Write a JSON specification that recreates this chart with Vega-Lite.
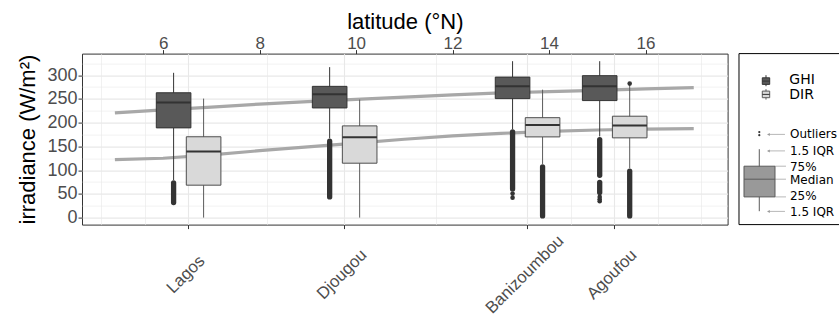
{
  "$schema": "https://vega.github.io/schema/vega-lite/v6.json",
  "usermeta": {"embedOptions": {"actions": false}},
  "background": "white",
  "padding": {"left": 16, "top": 9.6, "right": 0, "bottom": 0},
  "spacing": 11,
  "bounds": "flush",
  "config": {
    "view": {"stroke": "#333333", "strokeWidth": 1},
    "font": "Liberation Sans",
    "axis": {
      "domain": false,
      "labelColor": "#4d4d4d",
      "tickColor": "#333333",
      "tickWidth": 1,
      "gridColor": "#e8e8e8",
      "titleColor": "#000000",
      "titleFontWeight": "normal",
      "labelFontSize": 18,
      "titleFontSize": 22,
      "labelOverlap": false,
      "labelFlush": false
    }
  },
  "datasets": {
    "boxes": [
      {"site": "Lagos", "var": "GHI", "lat": 6.524, "lo": 79, "q1": 189, "med": 242.5, "q3": 263, "hi": 305},
      {"site": "Djougou", "var": "GHI", "lat": 9.759, "lo": 167, "q1": 231, "med": 260, "q3": 276.5, "hi": 317},
      {"site": "Banizoumbou", "var": "GHI", "lat": 13.551, "lo": 186, "q1": 250.7, "med": 276.8, "q3": 296, "hi": 329.5},
      {"site": "Agoufou", "var": "GHI", "lat": 15.357, "lo": 171, "q1": 246.5, "med": 276.8, "q3": 299, "hi": 329.5},
      {"site": "Lagos", "var": "DIR", "lat": 6.524, "lo": 0, "q1": 68.3, "med": 139, "q3": 170.3, "hi": 250.7},
      {"site": "Djougou", "var": "DIR", "lat": 9.759, "lo": 0, "q1": 114.6, "med": 169.4, "q3": 193.2, "hi": 248.6},
      {"site": "Banizoumbou", "var": "DIR", "lat": 13.551, "lo": 113, "q1": 170, "med": 195, "q3": 210.5, "hi": 269.5},
      {"site": "Agoufou", "var": "DIR", "lat": 15.357, "lo": 104, "q1": 168, "med": 193.8, "q3": 213.6, "hi": 279}
    ],
    "outranges": [
      {"site": "Lagos", "var": "GHI", "lat": 6.524, "from": 31.7, "to": 73.2},
      {"site": "Djougou", "var": "GHI", "lat": 9.759, "from": 43.5, "to": 161},
      {"site": "Banizoumbou", "var": "GHI", "lat": 13.551, "from": 60.3, "to": 180.6},
      {"site": "Banizoumbou", "var": "DIR", "lat": 13.551, "from": 3.5, "to": 107},
      {"site": "Agoufou", "var": "GHI", "lat": 15.357, "from": 89, "to": 164.4},
      {"site": "Agoufou", "var": "GHI", "lat": 15.357, "from": 52.8, "to": 74.4},
      {"site": "Agoufou", "var": "DIR", "lat": 15.357, "from": 3.5, "to": 97.6}
    ],
    "outpoints": [
      {"site": "Banizoumbou", "var": "GHI", "lat": 13.551, "v": 50.5},
      {"site": "Banizoumbou", "var": "GHI", "lat": 13.551, "v": 42},
      {"site": "Agoufou", "var": "GHI", "lat": 15.357, "v": 43.6},
      {"site": "Agoufou", "var": "GHI", "lat": 15.357, "v": 38.8},
      {"site": "Agoufou", "var": "GHI", "lat": 15.357, "v": 34.6},
      {"site": "Agoufou", "var": "DIR", "lat": 15.357, "v": 282.3}
    ],
    "fit": [
      {"var": "GHI", "lat": 5, "v": 220.6}, {"var": "GHI", "lat": 6, "v": 226.9}, {"var": "GHI", "lat": 7, "v": 232.9},
      {"var": "GHI", "lat": 8, "v": 239.1}, {"var": "GHI", "lat": 9, "v": 244.2}, {"var": "GHI", "lat": 10, "v": 249.0},
      {"var": "GHI", "lat": 11, "v": 253.8}, {"var": "GHI", "lat": 12, "v": 258.6}, {"var": "GHI", "lat": 13, "v": 262.6},
      {"var": "GHI", "lat": 14, "v": 265.4}, {"var": "GHI", "lat": 15, "v": 268.2}, {"var": "GHI", "lat": 16, "v": 271.1},
      {"var": "GHI", "lat": 17, "v": 273.9},
      {"var": "DIR", "lat": 5, "v": 122}, {"var": "DIR", "lat": 6, "v": 125}, {"var": "DIR", "lat": 7, "v": 132},
      {"var": "DIR", "lat": 8, "v": 141}, {"var": "DIR", "lat": 9, "v": 149}, {"var": "DIR", "lat": 10, "v": 157},
      {"var": "DIR", "lat": 11, "v": 165}, {"var": "DIR", "lat": 12, "v": 172}, {"var": "DIR", "lat": 13, "v": 177.5},
      {"var": "DIR", "lat": 14, "v": 181.5}, {"var": "DIR", "lat": 15, "v": 184.5}, {"var": "DIR", "lat": 16, "v": 186.3},
      {"var": "DIR", "lat": 17, "v": 187.5}
    ]
  },
  "hconcat": [
    {
      "width": 645.6,
      "height": 171,
      "layer": [
        {
          "data": {"name": "fit"},
          "mark": {"type": "line", "color": "#a8a8a8", "strokeWidth": 3.2},
          "encoding": {
            "x": {
              "field": "lat", "type": "quantitative",
              "scale": {"domain": [4.422, 17.598], "nice": false, "zero": false},
              "axis": {
                "orient": "bottom",
                "values": [4.72, 5.633, 6.524, 8.157, 9.759, 11.659, 13.551, 14.455, 15.357, 16.259, 17.157],
                "labelExpr": "datum.value == 6.524 ? 'Lagos' : datum.value == 9.759 ? 'Djougou' : datum.value == 13.551 ? 'Banizoumbou' : datum.value == 15.357 ? 'Agoufou' : ''",
                "title": null,
                "grid": true,
                "gridWidth": {"condition": {"test": "indexof([6.524, 9.759, 13.551, 15.357], datum.value) >= 0", "value": 1.1}, "value": 0.6},
                "tickOpacity": {"condition": {"test": "indexof([6.524, 9.759, 13.551, 15.357], datum.value) >= 0", "value": 1}, "value": 0},
                "tickSize": 4,
                "labelAngle": -45,
                "labelAlign": "center",
                "labelBaseline": "middle",
                "labelPadding": 45.5,
                "labelOffset": -3,
                "labelFontSize": 16.8
              }
            },
            "y": {
              "field": "v", "type": "quantitative",
              "scale": {"domain": [-14.75, 345.5], "nice": false, "zero": false},
              "axis": {
                "orient": "left",
                "values": [0, 25, 50, 75, 100, 125, 150, 175, 200, 225, 250, 275, 300, 325],
                "labelExpr": "datum.value % 50 === 0 ? datum.label : ''",
                "grid": true,
                "gridWidth": {"condition": {"test": "datum.value % 50 === 0", "value": 1.1}, "value": 0.6},
                "tickOpacity": {"condition": {"test": "datum.value % 50 === 0", "value": 1}, "value": 0},
                "tickSize": 4,
                "labelPadding": 1,
                "title": "irradiance (W/m²)",
                "titlePadding": 7
              }
            },
            "detail": {"field": "var", "type": "nominal"}
          }
        },
        {
          "data": {"name": "boxes"},
          "mark": {"type": "rule", "strokeWidth": 1, "xOffset": {"expr": "datum.var === 'GHI' ? -14.8 : 15.2"}},
          "encoding": {
            "x": {
              "field": "lat", "type": "quantitative",
              "scale": {"domain": [4.422, 17.598], "nice": false, "zero": false},
              "axis": {
                "orient": "top",
                "values": [6, 8, 10, 12, 14, 16],
                "grid": false,
                "tickSize": 4,
                "labelPadding": -2.5,
                "labelFontSize": 17,
                "title": "latitude (°N)",
                "titlePadding": 1
              }
            },
            "y": {"field": "lo", "type": "quantitative", "scale": {"domain": [-14.75, 345.5], "nice": false, "zero": false}, "axis": null},
            "y2": {"field": "hi"},
            "color": {"condition": {"test": "datum.var === 'GHI'", "value": "#333333"}, "value": "#5a5a5a"}
          }
        },
        {
          "data": {"name": "outranges"},
          "mark": {"type": "rule", "strokeWidth": 5.3, "strokeCap": "round", "color": "#333333", "xOffset": {"expr": "datum.var === 'GHI' ? -14.8 : 15.2"}},
          "encoding": {
            "x": {"field": "lat", "type": "quantitative", "scale": {"domain": [4.422, 17.598], "nice": false, "zero": false}, "axis": null},
            "y": {"field": "from", "type": "quantitative", "scale": {"domain": [-14.75, 345.5], "nice": false, "zero": false}, "axis": null},
            "y2": {"field": "to"}
          }
        },
        {
          "data": {"name": "outpoints"},
          "mark": {"type": "point", "filled": true, "opacity": 1, "size": 21, "color": "#333333", "xOffset": {"expr": "datum.var === 'GHI' ? -14.8 : 15.2"}},
          "encoding": {
            "x": {"field": "lat", "type": "quantitative", "scale": {"domain": [4.422, 17.598], "nice": false, "zero": false}, "axis": null},
            "y": {"field": "v", "type": "quantitative", "scale": {"domain": [-14.75, 345.5], "nice": false, "zero": false}, "axis": null}
          }
        },
        {
          "data": {"name": "boxes"},
          "mark": {"type": "bar", "width": 34.6, "strokeWidth": 1, "xOffset": {"expr": "datum.var === 'GHI' ? -14.8 : 15.2"}},
          "encoding": {
            "x": {"field": "lat", "type": "quantitative", "scale": {"domain": [4.422, 17.598], "nice": false, "zero": false}, "axis": null},
            "y": {"field": "q1", "type": "quantitative", "scale": {"domain": [-14.75, 345.5], "nice": false, "zero": false}, "axis": null},
            "y2": {"field": "q3"},
            "fill": {"condition": {"test": "datum.var === 'GHI'", "value": "#595959"}, "value": "#d9d9d9"},
            "stroke": {"condition": {"test": "datum.var === 'GHI'", "value": "#333333"}, "value": "#4d4d4d"}
          }
        },
        {
          "data": {"name": "boxes"},
          "mark": {"type": "tick", "orient": "horizontal", "size": 34.6, "thickness": 2, "color": "#333333", "opacity": 1, "xOffset": {"expr": "datum.var === 'GHI' ? -14.8 : 15.2"}},
          "encoding": {
            "x": {"field": "lat", "type": "quantitative", "scale": {"domain": [4.422, 17.598], "nice": false, "zero": false}, "axis": null},
            "y": {"field": "med", "type": "quantitative", "scale": {"domain": [-14.75, 345.5], "nice": false, "zero": false}, "axis": null}
          }
        }
      ],
      "resolve": {"axis": {"x": "independent", "y": "independent"}}
    },
    {
      "width": 100,
      "height": 171,
      "view": {"stroke": null},
      "encoding": {
        "x": {"field": "x", "type": "quantitative", "scale": {"domain": [0, 100], "nice": false, "zero": false}, "axis": null},
        "y": {"field": "y", "type": "quantitative", "scale": {"domain": [0, 171], "nice": false, "zero": false}, "axis": null}
      },
      "layer": [
        {
          "data": {"values": [
            {"x": 0, "x2": 100, "y": 171, "y2": 171},
            {"x": 0, "x2": 100, "y": 0, "y2": 0},
            {"x": 0, "x2": 0, "y": 0, "y2": 171}
          ]},
          "mark": {"type": "rule", "color": "#000000", "strokeWidth": 1},
          "encoding": {"x2": {"field": "x2"}, "y2": {"field": "y2"}}
        },
        {
          "data": {"values": [
            {"part": "Outliers", "x": 28.7, "x2": 46, "y": 90.2, "y2": 90.2},
            {"part": "upper 1.5 IQR", "x": 28.7, "x2": 46, "y": 73.7, "y2": 73.7},
            {"part": "75%", "x": 36, "x2": 47, "y": 58.4, "y2": 58.4},
            {"part": "Median", "x": 36, "x2": 47, "y": 45.4, "y2": 45.4},
            {"part": "25%", "x": 36, "x2": 47, "y": 27.7, "y2": 27.7},
            {"part": "lower 1.5 IQR", "x": 28.7, "x2": 46, "y": 13.2, "y2": 13.2}
          ]},
          "mark": {"type": "rule", "color": "#9a9a9a", "strokeWidth": 0.7},
          "encoding": {"x2": {"field": "x2"}, "y2": {"field": "y2"}}
        },
        {
          "data": {"values": [
            {"part": "Outliers", "x": 29.5, "y": 90.2},
            {"part": "upper 1.5 IQR", "x": 29.5, "y": 73.7},
            {"part": "lower 1.5 IQR", "x": 29.5, "y": 13.2}
          ]},
          "mark": {"type": "point", "shape": "triangle-left", "filled": true, "opacity": 1, "size": 9, "color": "#9a9a9a"}
        },
        {
          "data": {"values": [{"part": "whisker", "x": 20.3, "x2": 20.3, "y": 13.4, "y2": 75.4}]},
          "mark": {"type": "rule", "color": "#5a5a5a", "strokeWidth": 1},
          "encoding": {"x2": {"field": "x2"}, "y2": {"field": "y2"}}
        },
        {
          "data": {"values": [{"part": "box", "x": 5, "x2": 36, "y": 27.7, "y2": 58.4}]},
          "mark": {"type": "rect", "fill": "#999999", "stroke": "#5a5a5a", "strokeWidth": 1},
          "encoding": {"x2": {"field": "x2"}, "y2": {"field": "y2"}}
        },
        {
          "data": {"values": [{"part": "median", "x": 5, "x2": 36, "y": 45.4, "y2": 45.4}]},
          "mark": {"type": "rule", "color": "#5a5a5a", "strokeWidth": 1},
          "encoding": {"x2": {"field": "x2"}, "y2": {"field": "y2"}}
        },
        {
          "data": {"values": [{"part": "outlier", "x": 20.3, "y": 92.5}, {"part": "outlier", "x": 20.3, "y": 89.4}]},
          "mark": {"type": "point", "filled": true, "opacity": 1, "size": 5, "color": "#333333"}
        },
        {
          "data": {"values": [
            {"var": "GHI", "x": 27, "x2": 27, "y": 138.4, "y2": 149.4},
            {"var": "DIR", "x": 27, "x2": 27, "y": 125, "y2": 135.4}
          ]},
          "mark": {"type": "rule", "strokeWidth": 1},
          "encoding": {
            "x2": {"field": "x2"}, "y2": {"field": "y2"},
            "color": {"condition": {"test": "datum.var === 'GHI'", "value": "#333333"}, "value": "#5a5a5a"}
          }
        },
        {
          "data": {"values": [
            {"var": "GHI", "x": 23.3, "x2": 30.7, "y": 140.2, "y2": 146.8},
            {"var": "DIR", "x": 23.3, "x2": 30.7, "y": 126.9, "y2": 133.5}
          ]},
          "mark": {"type": "rect", "strokeWidth": 1},
          "encoding": {
            "x2": {"field": "x2"}, "y2": {"field": "y2"},
            "fill": {"condition": {"test": "datum.var === 'GHI'", "value": "#595959"}, "value": "#d9d9d9"},
            "stroke": {"condition": {"test": "datum.var === 'GHI'", "value": "#333333"}, "value": "#5a5a5a"}
          }
        },
        {
          "data": {"values": [
            {"var": "GHI", "x": 23.3, "x2": 30.7, "y": 143.5, "y2": 143.5},
            {"var": "DIR", "x": 23.3, "x2": 30.7, "y": 130.2, "y2": 130.2}
          ]},
          "mark": {"type": "rule", "strokeWidth": 1, "color": "#333333"},
          "encoding": {"x2": {"field": "x2"}, "y2": {"field": "y2"}}
        },
        {
          "data": {"values": [
            {"label": "GHI", "x": 50.3, "y": 144.3},
            {"label": "DIR", "x": 50.3, "y": 129.5}
          ]},
          "mark": {"type": "text", "align": "left", "baseline": "middle", "font": "DejaVu Sans", "fontSize": 14, "color": "#000000"},
          "encoding": {"text": {"field": "label"}}
        },
        {
          "data": {"values": [
            {"label": "Outliers", "x": 51, "y": 90.2},
            {"label": "1.5 IQR", "x": 51, "y": 73.5},
            {"label": "75%", "x": 51, "y": 57.4},
            {"label": "Median", "x": 51, "y": 45},
            {"label": "25%", "x": 51, "y": 28.2},
            {"label": "1.5 IQR", "x": 51, "y": 12.9}
          ]},
          "mark": {"type": "text", "align": "left", "baseline": "middle", "font": "DejaVu Sans", "fontSize": 12, "color": "#000000"},
          "encoding": {"text": {"field": "label"}}
        }
      ]
    }
  ]
}
